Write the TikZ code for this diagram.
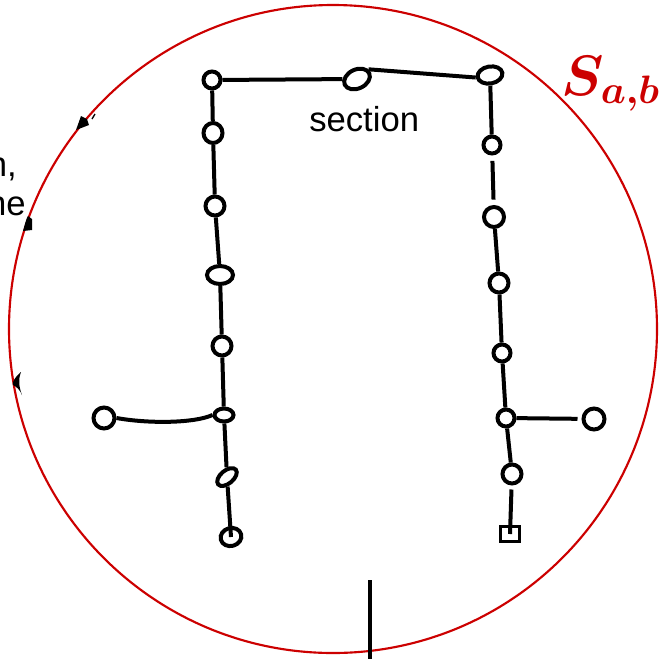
\documentclass[tikz,border=0pt]{standalone}
\usepackage{fontspec}
\setmainfont{Liberation Sans}
\usepackage{graphicx}
\usetikzlibrary{shapes.geometric}
\definecolor{penred}{RGB}{204,0,0}
\tikzset{
  vtx/.style={draw, ellipse, inner sep=0pt, line width=3pt, fill=white},
  dia/.style 2 args={minimum width=#1*0.75pt, minimum height=#2*0.75pt},
  rbox/.style={draw, rectangle, inner sep=0pt, line width=2.4pt, fill=white,
    minimum width=19*0.75pt, minimum height=15*0.75pt},
  edge/.style={line width=3pt},
  bigtext/.style={anchor=base east, inner sep=0pt, font=\fontsize{26}{30}\selectfont},
}
\begin{document}
\begin{tikzpicture}[x=0.75pt, y=-0.75pt]
\useasboundingbox (0,0) rectangle (665,658);

% boundary circle
\draw[penred, line width=1.6pt] (333,329) circle[radius=324];
\node[penred, anchor=base west, inner sep=0pt, font=\boldmath\fontsize{24}{28}\selectfont] (lab) at (561,95) {\scalebox{1.72}{$S_{a,b}$}};

% text fragments running off the left edge
\node[bigtext] (t1) at (17,176) {n,};
\node[bigtext] (t2) at (26,215) {ne};

% small arrow tips on the circle
\fill (76,130) -- (81,116) -- (87,119) -- (89,125) -- cycle;
\draw[line width=1pt] (92,119) -- (95,114);
\fill (23,231) .. controls (25,224) and (26,219) .. (28,216) -- (32,219) -- (32,230) -- cycle;
\fill (21,372) .. controls (15,377) and (12,382) .. (13,385) .. controls (17,387) and (20,390) .. (22,395) .. controls (19,387) and (18,380) .. (21,372);

% bottom stroke
\coordinate (b0) at (370,580);
\coordinate (b1) at (370,660);
\draw[line width=3.2pt] (b0) -- (b1);

% left chain
\node[vtx, dia={17}{17}] (L1) at (212,80) {};
\node[vtx, dia={19}{20}] (L2) at (213,133) {};
\node[vtx, dia={19}{19}] (L3) at (215,206) {};
\node[vtx, dia={26}{18}] (L4) at (220,275) {};
\node[vtx, dia={19}{19}] (L5) at (222,346) {};
\node[vtx, dia={19}{13}] (L6) at (224,415) {};
\node[vtx, dia={21}{21}] (LB) at (104,418) {};
\node[vtx, dia={23}{13}, rotate=40] (L7) at (227,477) {};
\node[vtx, dia={21}{18}, rotate=15] (L8) at (231,537) {};

% top node and its label
\node[vtx, dia={27}{19}, rotate=25] (M) at (357,79) {};
\node[anchor=base west, inner sep=0pt, font=\fontsize{26}{30}\selectfont] (sec) at (309,131) {section};

% right chain
\node[vtx, dia={25}{17}, rotate=10] (R1) at (490,75) {};
\node[vtx, dia={17}{17}] (R2) at (492,145) {};
\node[vtx, dia={20}{20}] (R3) at (494,217) {};
\node[vtx, dia={19}{19}] (R4) at (499,283) {};
\node[vtx, dia={17}{17}] (R5) at (502,353) {};
\node[vtx, dia={17}{17}] (R6) at (506,418) {};
\node[vtx, dia={21}{21}] (RB) at (594,419) {};
\node[vtx, dia={19}{19}] (R7) at (512,474) {};
\node[rbox] (R8) at (510,534) {};

% connectors
\begin{scope}[edge]
\draw (L1) -- (M);
\draw (M.15) -- (R1.west);
\draw (L1) -- (L2);
\draw (L2) -- (L3);
\draw (L3) -- (L4);
\draw (L4) -- (L5);
\draw (L5) -- (L6);
\draw (L6) -- (L7);
\draw (L7) -- (L8.center);
\draw (LB.east) .. controls (150,424) and (195,423) .. (L6.west);
\draw (R1) -- (R2);
\draw[shorten <=4pt, shorten >=4pt] (R2) -- (R3);
\draw (R3) -- (R4);
\draw (R4) -- (R5);
\draw (R5) -- (R6);
\draw[shorten >=3pt] (R6) -- (RB);
\draw (R6) -- (R7);
\draw[shorten <=3pt] (R7) -- (R8.center);
\end{scope}
\end{tikzpicture}
\end{document}
